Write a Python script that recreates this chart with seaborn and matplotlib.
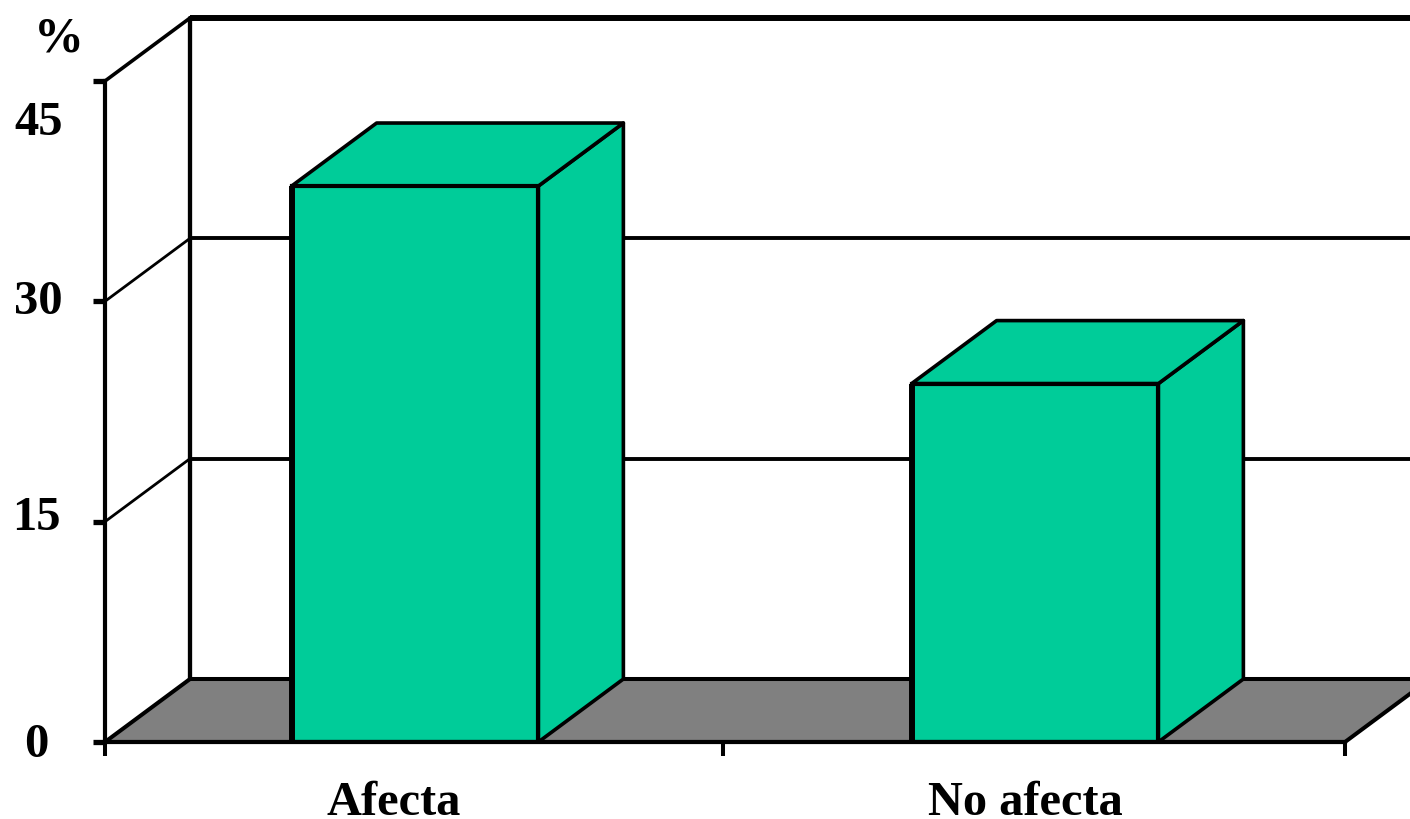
import matplotlib
matplotlib.use("Agg")
import matplotlib.pyplot as plt
import seaborn as sns
from matplotlib.patches import Polygon

# Chart values
categories = ["Afecta", "No afecta"]
values = [37.85, 24.4]
y_ticks = [0, 15, 30, 45]
y_labels = ["0", "15", "30", "45"]

BAR_COLOR = "#00CC99"
FLOOR_COLOR = "#808080"

# Fake 3D depth, in data units (85 px right, 63 px up)
DEPTH_X = 85 / 620
DEPTH_Y = 63 / (661 / 45)
X_LEFT, X_RIGHT = -0.5, 1.5

sns.set_style("white")
plt.rcParams["font.family"] = ["Liberation Serif", "DejaVu Serif"]
plt.rcParams["font.weight"] = "bold"
plt.rcParams["text.color"] = "black"

fig = plt.figure(figsize=(14.1, 8.2), dpi=100)
ax = fig.add_axes([105 / 1410, 77 / 820, 1240 / 1410, 661 / 820])

sns.barplot(x=categories, y=values, color=BAR_COLOR, saturation=1, width=0.398,
            edgecolor="black", linewidth=3.0, ax=ax, zorder=4)
ax.set_xlim(X_LEFT, X_RIGHT)
ax.set_ylim(0, 45)

# Floor
ax.add_patch(Polygon([(X_LEFT, 0), (X_RIGHT, 0), (X_RIGHT + DEPTH_X, DEPTH_Y), (X_LEFT + DEPTH_X, DEPTH_Y)],
                     closed=True, facecolor=FLOOR_COLOR, edgecolor="black", linewidth=2.9,
                     clip_on=False, zorder=1))

# Back wall: vertical edge, gridlines and the diagonals that join them to the axis
ax.plot([X_LEFT + DEPTH_X] * 2, [DEPTH_Y, 45 + DEPTH_Y], color="black", lw=3.1, clip_on=False, zorder=1)
for tick in y_ticks[1:]:
    top = tick == y_ticks[-1]
    ax.plot([X_LEFT + DEPTH_X, X_RIGHT + DEPTH_X], [tick + DEPTH_Y] * 2, color="black",
            lw=4.3 if top else 2.8, clip_on=False, zorder=1, solid_capstyle="butt")
    ax.plot([X_LEFT, X_LEFT + DEPTH_X], [tick, tick + DEPTH_Y], color="black",
            lw=2.6 if top else 2.0, clip_on=False, zorder=1)

# Bar side and top faces, taken from the bars seaborn drew
for bar in ax.patches[:len(values)]:
    x0 = bar.get_x()
    x1 = x0 + bar.get_width()
    h = bar.get_height()
    side = [(x1, 0), (x1 + DEPTH_X, DEPTH_Y), (x1 + DEPTH_X, h + DEPTH_Y), (x1, h)]
    lid = [(x0, h), (x1, h), (x1 + DEPTH_X, h + DEPTH_Y), (x0 + DEPTH_X, h + DEPTH_Y)]
    for face in (side, lid):
        ax.add_patch(Polygon(face, closed=True, facecolor=BAR_COLOR, edgecolor="black",
                             linewidth=2.6, joinstyle="round", clip_on=False, zorder=3))
    # left edge is heavier in the original
    ax.plot([x0, x0], [0, h], color="black", lw=4.3, zorder=5, solid_capstyle="butt")

# Spines and ticks
sns.despine(ax=ax, top=True, right=True)
for name in ("left", "bottom"):
    ax.spines[name].set_linewidth(3.0)
    ax.spines[name].set_color("black")
    ax.spines[name].set_zorder(6)
ax.set_yticks(y_ticks)
ax.set_yticklabels([])
ax.set_xticks([X_LEFT, 0.497, X_RIGHT])
ax.set_xticklabels([])
ax.tick_params(axis="y", left=True, length=9, width=3.8, color="black")
ax.tick_params(axis="x", bottom=True, length=10, width=2.9, color="black")

# Labels sit off their ticks in the original, so each has its own pixel offset
y_label_offsets = [(-69, -14), (-69, -7), (-66.5, -12), (-66.5, -53)]
for tick, label, off in zip(y_ticks, y_labels, y_label_offsets):
    ax.annotate(label, xy=(X_LEFT, tick), xycoords="data", xytext=off, textcoords="offset pixels",
                ha="center", va="baseline", fontsize=35, fontweight="bold", annotation_clip=False)

x_label_offsets = [-21, -10]
for i, (label, off) in enumerate(zip(categories, x_label_offsets)):
    ax.annotate(label, xy=(i, 0), xycoords="data", xytext=(off, -72), textcoords="offset pixels",
                ha="center", va="baseline", fontsize=34.8, fontweight="bold", annotation_clip=False)

fig.text(59 / 1410, 1 - 52 / 820, "%", ha="center", va="baseline", fontsize=36, fontweight="bold")

fig.savefig("out.png", dpi=100, facecolor="white")
